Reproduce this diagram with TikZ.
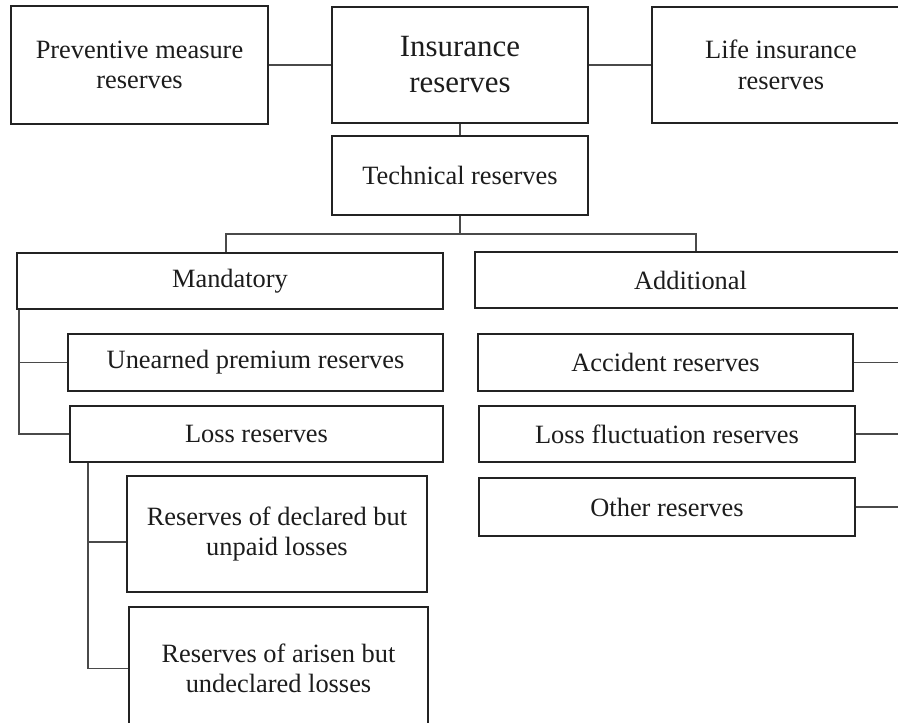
\documentclass[tikz,border=0pt]{standalone}
\usepackage{fontspec}
\setmainfont{Liberation Serif}
\usetikzlibrary{calc}

\definecolor{boxline}{HTML}{232323}
\definecolor{linkline}{HTML}{4A4A4A}
\definecolor{inktext}{HTML}{1C1C1C}

\tikzset{
  box/.style={draw=boxline, line width=2.6pt, fill=white, inner sep=0pt,
    align=center, text=inktext,
    font=\fontsize{26.4}{30.5}\selectfont},
  bigbox/.style={box, font=\fontsize{30.9}{36}\selectfont},
  link/.style={draw=linkline, line width=1.3pt},
}

\begin{document}
\begin{tikzpicture}[x=1pt, y=-1pt]
  \useasboundingbox (0,0) rectangle (898,723);
  \clip (0,0) rectangle (898,723);

  % top row
  \node[box, minimum width=257pt, minimum height=118pt] (prev) at (139.5,65) {Preventive measure\\reserves};
  \node[bigbox, minimum width=256pt, minimum height=116pt] (ins) at (460,65) {Insurance\\reserves};
  \node[box, minimum width=258pt, minimum height=116pt] (life) at (781,65) {Life insurance\\reserves};

  \node[box, minimum width=256pt, minimum height=79pt] (tech) at (460,175.5) {Technical reserves};

  % two groups
  \node[box, minimum width=426pt, minimum height=56pt] (mand) at (230,281) {Mandatory};
  \node[box, minimum width=431pt, minimum height=56pt] (addl) at (690.5,280) {Additional};

  % mandatory branch
  \node[box, minimum width=375pt, minimum height=57pt] (unearn) at (255.5,362.5) {Unearned premium reserves};
  \node[box, minimum width=373pt, minimum height=56pt] (loss) at (256.5,434) {Loss reserves};
  \node[box, minimum width=300pt, minimum height=116pt] (decl) at (277,534) {Reserves of declared but\\unpaid losses};
  \node[box, minimum width=299pt, minimum height=123pt] (aris) at (278.5,668.5) {Reserves of arisen but\\undeclared losses};

  % additional branch
  \node[box, minimum width=375pt, minimum height=57pt] (acc) at (665.5,362.5) {Accident reserves};
  \node[box, minimum width=376pt, minimum height=56pt] (fluct) at (667,434) {Loss fluctuation reserves};
  \node[box, minimum width=376pt, minimum height=58pt] (other) at (667,507) {Other reserves};

  % bus positions
  \coordinate (busL) at (226,234);
  \coordinate (busR) at (696,234);
  \coordinate (mbus) at (19,0);
  \coordinate (lbus) at (88,0);
  \coordinate (rbus) at (904,0);
  \coordinate (declhook) at (0,542);

  % connectors
  \draw[link] (prev.east) -- (ins.west);
  \draw[link] (ins.east) -- (life.west);
  \draw[link] (ins.south) -- (tech.north);
  \draw[link] (tech.south) -- (tech.south |- busL);
  \draw[link] (mand.north -| busL) -- (busL) -- (busR) -- (addl.north -| busR);

  \draw[link] (mand.south -| mbus) |- (loss.west);
  \draw[link] (mbus |- unearn.west) -- (unearn.west);

  \draw[link] (loss.south -| lbus) |- (aris.west);
  \draw[link] (lbus |- declhook) -- (decl.west |- declhook);

  \draw[link] (acc.east) -- (acc.east -| rbus);
  \draw[link] (fluct.east) -- (fluct.east -| rbus);
  \draw[link] (other.east) -- (other.east -| rbus);
\end{tikzpicture}
\end{document}
